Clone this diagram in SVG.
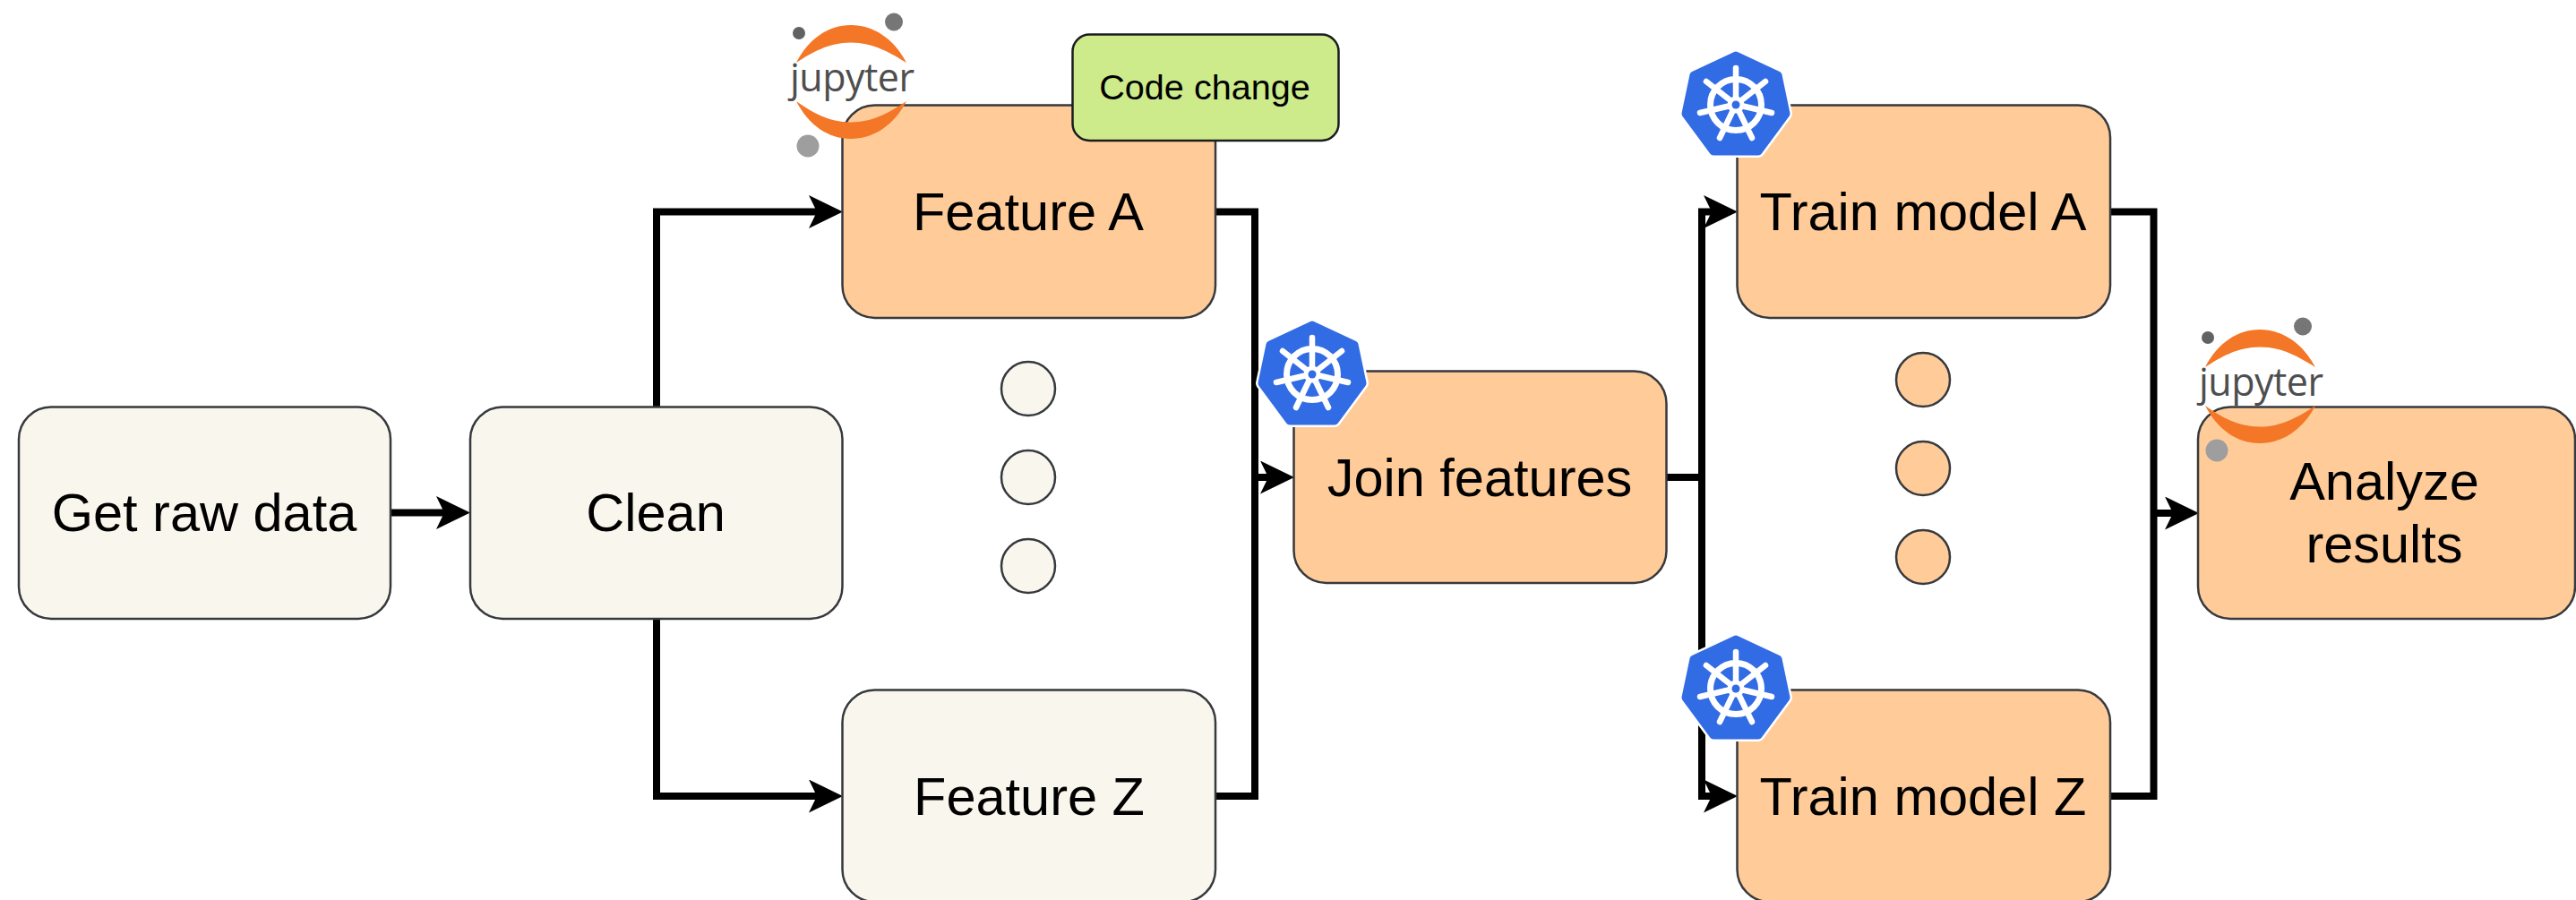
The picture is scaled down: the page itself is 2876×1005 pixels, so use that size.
<svg xmlns="http://www.w3.org/2000/svg" xmlns:xlink="http://www.w3.org/1999/xlink" width="2876" height="1005" viewBox="0 0 2876 1005">
<style>
text{font-family:"Liberation Sans",Arial,sans-serif;fill:#000;text-anchor:middle;font-size:59.5px}
.box{stroke:#36393d;stroke-width:2.5}
.beige{fill:#f9f7ed}
.orange{fill:#ffcc99}
.green{fill:#cdeb8b;stroke:#1a1c1e}
.wire{fill:none;stroke:#000;stroke-width:8;stroke-linejoin:miter}
.arrow{marker-end:url(#head)}
.jt{font-family:"Open Sans","Noto Sans",sans-serif;font-size:43px;fill:#4e4e4e;text-anchor:start}
.spoke{stroke:#fff;stroke-width:6.500;stroke-linecap:round;fill:none}
</style>
<defs>
<marker id="head" markerUnits="userSpaceOnUse" markerWidth="40" markerHeight="40" refX="9" refY="18.5" orient="auto">
<path d="M38,18.5L0,0L9,18.5L0,37Z" fill="#000"/>
</marker>
<g id="jup">
<path d="M889,70C903,43 925,28 950,28C975,28 998,43 1012,70C994,59 975,47.500 950,47.500C925,47.500 906,59 889,70Z" fill="#f37726"/>
<path d="M889,113C906,125 925,136.500 950,136.500C975,136.500 994,125 1012,113C998,140 975,155 950,155C925,155 903,140 889,113Z" fill="#f37726"/>
<circle cx="998" cy="24.500" r="10" fill="#767677"/>
<circle cx="892" cy="37" r="7" fill="#616262"/>
<circle cx="902" cy="163" r="12.500" fill="#9e9e9e"/>
</g>
<g id="k8s">
<polygon points="0,-55 47,-33 56,10 25,52 -25,52 -56,10 -47,-33" fill="#fff" stroke="#fff" stroke-width="14" stroke-linejoin="round"/>
<polygon points="0,-55 47,-33 56,10 25,52 -25,52 -56,10 -47,-33" fill="#326ce5" stroke="#326ce5" stroke-width="9" stroke-linejoin="round"/>
<circle r="28.500" fill="none" stroke="#fff" stroke-width="7"/>
<circle r="9.500" fill="#fff"/>
<path class="spoke" d="M0,-6V-41M5,-4L33,-26M6,1L40,9M3,6L18,37M-3,6L-18,37M-6,1L-40,9M-5,-4L-33,-26"/>
<circle r="4.500" fill="#326ce5"/>
</g>
</defs>
<rect width="2876" height="1005" fill="#fff"/>
<g id="connectors">
<path class="wire arrow" d="M436,572.500H496"/>
<path class="wire arrow" d="M733,454V236.500H912"/>
<path class="wire arrow" d="M733,691V889H912"/>
<path class="wire" d="M1357,236.500H1401V889H1357"/>
<path class="wire arrow" d="M1401,533H1416"/>
<path class="wire" d="M1860,533H1900"/>
<path class="wire arrow" d="M1900,533V236.500H1911"/>
<path class="wire arrow" d="M1900,533V889H1911"/>
<path class="wire" d="M2356,236.500H2404.500V889H2356"/>
<path class="wire arrow" d="M2404.500,573H2426"/>
</g>
<g id="get-raw-data"><rect class="box beige" x="21" y="454.500" width="415" height="236.500" rx="36"/><text x="228" y="593">Get raw data</text></g>
<g id="clean"><rect class="box beige" x="525" y="454.500" width="415.500" height="236.500" rx="36"/><text x="732" y="593">Clean</text></g>
<g id="feature-a"><rect class="box orange" x="940.500" y="117.500" width="416.500" height="237.500" rx="36"/><text x="1148" y="257">Feature A</text></g>
<g id="jupyter-a"><use href="#jup"/><text class="jt" x="882" y="102" textLength="139" lengthAdjust="spacing">jupyter</text></g>
<g id="code-change"><rect class="box green" x="1197.500" y="38.500" width="297" height="118.500" rx="19"/><text x="1345" y="111" style="font-size:39.6px">Code change</text></g>
<g id="feature-dots"><circle class="box beige" cx="1148" cy="434" r="30"/><circle class="box beige" cx="1148" cy="533" r="30"/><circle class="box beige" cx="1148" cy="632" r="30"/></g>
<g id="feature-z"><rect class="box beige" x="940.500" y="770.500" width="416.500" height="236.500" rx="36"/><text x="1149" y="910">Feature Z</text></g>
<g id="join-features"><rect class="box orange" x="1444.500" y="414.500" width="416" height="236.500" rx="36"/><text x="1652" y="554">Join features</text></g>
<g id="k8s-join"><use href="#k8s" x="1465" y="418"/></g>
<g id="train-a"><rect class="box orange" x="1939.500" y="117.500" width="416.500" height="237.500" rx="36"/><text x="2147" y="257">Train model A</text></g>
<g id="k8s-train-a"><use href="#k8s" x="1938" y="117"/></g>
<g id="train-dots"><circle class="box orange" cx="2147" cy="424" r="30"/><circle class="box orange" cx="2147" cy="523" r="30"/><circle class="box orange" cx="2147" cy="622" r="30"/></g>
<g id="train-z"><rect class="box orange" x="1939.500" y="770.500" width="416.500" height="236.500" rx="36"/><text x="2147" y="910">Train model Z</text></g>
<g id="k8s-train-z"><use href="#k8s" x="1938" y="769"/></g>
<g id="analyze"><rect class="box orange" x="2454" y="454.500" width="421" height="236.500" rx="36"/><text x="2662" y="558">Analyze</text><text x="2662" y="628">results</text></g>
<g id="jupyter-b"><use href="#jup" x="1573" y="340"/><text class="jt" x="2455" y="442" textLength="139" lengthAdjust="spacing">jupyter</text></g>
</svg>
